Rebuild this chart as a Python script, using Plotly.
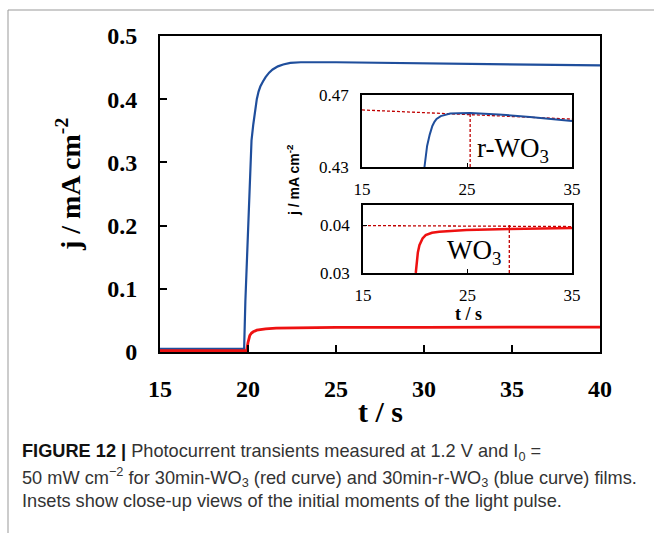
import plotly.graph_objects as go

W, H = 654, 533

# ---------------- data ----------------
# main plot: r-WO3 (blue) and WO3 (red)
t_blue = [15, 19.78, 19.85, 20.0, 20.2, 20.3, 20.4, 20.5, 20.6, 20.7, 20.85, 21.0, 21.2, 21.4, 21.7, 22.0,
          22.4, 23, 25, 30, 35, 40]
j_blue = [0.005, 0.005, 0.08, 0.2, 0.335, 0.36, 0.383, 0.40, 0.412, 0.42, 0.428, 0.435, 0.442, 0.447, 0.452,
          0.455, 0.4575, 0.4585, 0.4585, 0.457, 0.455, 0.4535]
t_red = [15, 19.92, 20.0, 20.1, 20.2, 20.3, 20.5, 20.75, 21.0, 21.6, 22.5, 25, 30, 35, 40]
j_red = [0.002, 0.002, 0.015, 0.026, 0.030, 0.032, 0.0345, 0.0358, 0.0367, 0.0378, 0.0384, 0.039, 0.039,
         0.0393, 0.0395]

# inset 1 (r-WO3)
t_in1 = [20.95, 21.05, 21.2, 21.45, 21.7, 21.9, 22.1, 22.5, 23.0, 23.4, 24.2, 25.3, 28, 31, 35]
j_in1 = [0.43, 0.435, 0.4417, 0.448, 0.4528, 0.4551, 0.4567, 0.4583, 0.4592, 0.4597, 0.4599, 0.46, 0.4592,
         0.4578, 0.4555]
t_in1_h = [15, 35]
j_in1_h = [0.4617, 0.4566]
t_in1_v = [25.3, 25.3]
j_in1_v = [0.43, 0.4604]

# inset 2 (WO3)
t_in2 = [20.05, 20.15, 20.25, 20.4, 20.55, 20.7, 21.0, 21.6, 22.3, 24.9, 29, 35]
j_in2 = [0.03, 0.0325, 0.0343, 0.0358, 0.0367, 0.0372, 0.0379, 0.0384, 0.0386, 0.039, 0.0392, 0.0394]
t_in2_h = [15, 35]
j_in2_h = [0.0399, 0.0397]
t_in2_v = [29.0, 29.0]
j_in2_v = [0.03, 0.0403]

main_xticks = [15, 20, 25, 30, 35, 40]
main_yticks = [0, 0.1, 0.2, 0.3, 0.4, 0.5]
main_yticktext = ["0", "0.1", "0.2", "0.3", "0.4", "0.5"]
in_xticks = [15, 25, 35]
in1_yticks = [0.43, 0.47]
in2_yticks = [0.03, 0.04]

BLUE = "#1f4e9c"
RED = "#ee1111"
DRED = "#c00000"
SERIF = "Liberation Serif"
SANS = "Liberation Sans"


def px(x):
    return x / W


def py(y):
    return 1 - y / H


fig = go.Figure()

# main
fig.add_trace(go.Scatter(x=t_blue, y=j_blue, mode="lines", line=dict(color=BLUE, width=2.2),
                         xaxis="x", yaxis="y", showlegend=False))
fig.add_trace(go.Scatter(x=t_red, y=j_red, mode="lines", line=dict(color=RED, width=2.8),
                         xaxis="x", yaxis="y", showlegend=False))
# inset 1
fig.add_trace(go.Scatter(x=t_in1_h, y=j_in1_h, mode="lines", line=dict(color=DRED, width=1.3, dash="3px,2px"),
                         xaxis="x2", yaxis="y2", showlegend=False))
fig.add_trace(go.Scatter(x=t_in1_v, y=j_in1_v, mode="lines", line=dict(color=DRED, width=1.3, dash="3px,2px"),
                         xaxis="x2", yaxis="y2", showlegend=False))
fig.add_trace(go.Scatter(x=t_in1, y=j_in1, mode="lines", line=dict(color=BLUE, width=2),
                         xaxis="x2", yaxis="y2", showlegend=False))
# inset 2
fig.add_trace(go.Scatter(x=t_in2_h, y=j_in2_h, mode="lines", line=dict(color=DRED, width=1.3, dash="3px,2px"),
                         xaxis="x3", yaxis="y3", showlegend=False))
fig.add_trace(go.Scatter(x=t_in2_v, y=j_in2_v, mode="lines", line=dict(color=DRED, width=1.3, dash="3px,2px"),
                         xaxis="x3", yaxis="y3", showlegend=False))
fig.add_trace(go.Scatter(x=t_in2, y=j_in2, mode="lines", line=dict(color=RED, width=2.5),
                         xaxis="x3", yaxis="y3", showlegend=False))

main_tick_font = dict(family=SERIF, size=24, color="black", weight="bold")
in_tick_font = dict(family=SERIF, size=17, color="black")

common_main = dict(showline=True, linecolor="black", linewidth=2, mirror=True, showgrid=False,
                   zeroline=False, ticks="inside", ticklen=7, tickwidth=2, tickcolor="black",
                   automargin=False)
common_in = dict(showline=True, linecolor="black", linewidth=1.5, mirror=True, showgrid=False,
                 zeroline=False, ticks="inside", ticklen=4, tickwidth=1.2, tickcolor="black",
                 automargin=False)

fig.update_layout(
    width=W, height=H,
    margin=dict(l=0, r=0, t=0, b=0, pad=0),
    paper_bgcolor="white", plot_bgcolor="white",
    xaxis=dict(domain=[px(160), px(600)], range=[15, 40], anchor="y",
               tickvals=main_xticks, tickfont=main_tick_font, ticklabelstandoff=14, **common_main),
    yaxis=dict(domain=[py(352), py(36)], range=[0, 0.5], anchor="x",
               tickvals=main_yticks, ticktext=main_yticktext, tickfont=main_tick_font,
               ticklabelstandoff=16, **common_main),
    xaxis2=dict(domain=[px(362), px(572)], range=[15, 35], anchor="y2",
                tickvals=in_xticks, tickfont=in_tick_font, ticklabelstandoff=6, **common_in),
    yaxis2=dict(domain=[py(167), py(95)], range=[0.43, 0.47], anchor="x2",
                tickvals=in1_yticks, tickfont=in_tick_font, ticklabelstandoff=8, **common_in),
    xaxis3=dict(domain=[px(363), px(572)], range=[15, 35], anchor="y3",
                tickvals=in_xticks, tickfont=in_tick_font, ticklabelstandoff=6, **common_in),
    yaxis3=dict(domain=[py(273), py(205)], range=[0.03, 0.0442], anchor="x3",
                tickvals=in2_yticks, tickfont=in_tick_font, ticklabelstandoff=8, **common_in),
)

ann = []
# main axis titles
ann.append(dict(text="t / s", x=px(380), y=py(411), xref="paper", yref="paper", showarrow=False,
                font=dict(family=SERIF, size=30, color="black", weight="bold"), xanchor="center", yanchor="middle"))
ann.append(dict(text="j / mA cm<sup>-2</sup>", x=px(68), y=py(185), xref="paper", yref="paper", showarrow=False,
                textangle=-90, font=dict(family=SERIF, size=28, color="black", weight="bold"),
                xanchor="center", yanchor="middle"))
# inset titles
ann.append(dict(text="j / mA cm<sup>-2</sup>", x=px(293), y=py(180), xref="paper", yref="paper", showarrow=False,
                textangle=-90, font=dict(family=SANS, size=14, color="black", weight="bold"),
                xanchor="center", yanchor="middle"))
ann.append(dict(text="t / s", x=px(468), y=py(314), xref="paper", yref="paper", showarrow=False,
                font=dict(family=SERIF, size=18, color="black", weight="bold"), xanchor="center", yanchor="middle"))
# labels
ann.append(dict(text="r-WO<sub>3</sub>", x=px(513), y=py(150), xref="paper", yref="paper", showarrow=False,
                font=dict(family=SERIF, size=27, color="black"), xanchor="center", yanchor="middle"))
ann.append(dict(text="WO<sub>3</sub>", x=px(474), y=py(252), xref="paper", yref="paper", showarrow=False,
                font=dict(family=SERIF, size=27, color="black"), xanchor="center", yanchor="middle"))
# caption
cap_font = dict(family=SANS, size=18.2, color="#333333")
captions = [
    "<b style='color:#111'>FIGURE 12 |</b> Photocurrent transients measured at 1.2 V and I<sub>0</sub> =",
    "50 mW cm<sup>−2</sup> for 30min-WO<sub>3</sub> (red curve) and 30min-r-WO<sub>3</sub> (blue curve) films.",
    "Insets show close-up views of the initial moments of the light pulse.",
]
cap_y = [452, 477, 501]
for txt, yy in zip(captions, cap_y):
    ann.append(dict(text=txt, x=px(20), y=py(yy), xref="paper", yref="paper", showarrow=False,
                    font=cap_font, xanchor="left", yanchor="middle", align="left"))
fig.update_layout(annotations=ann)

# frame lines
fig.add_shape(type="line", xref="paper", yref="paper", x0=px(8), x1=1, y0=py(10), y1=py(10),
              line=dict(color="#999999", width=1))
fig.add_shape(type="line", xref="paper", yref="paper", x0=px(8), x1=px(8), y0=py(10), y1=0,
              line=dict(color="#999999", width=1))

fig.write_html("out.html")
